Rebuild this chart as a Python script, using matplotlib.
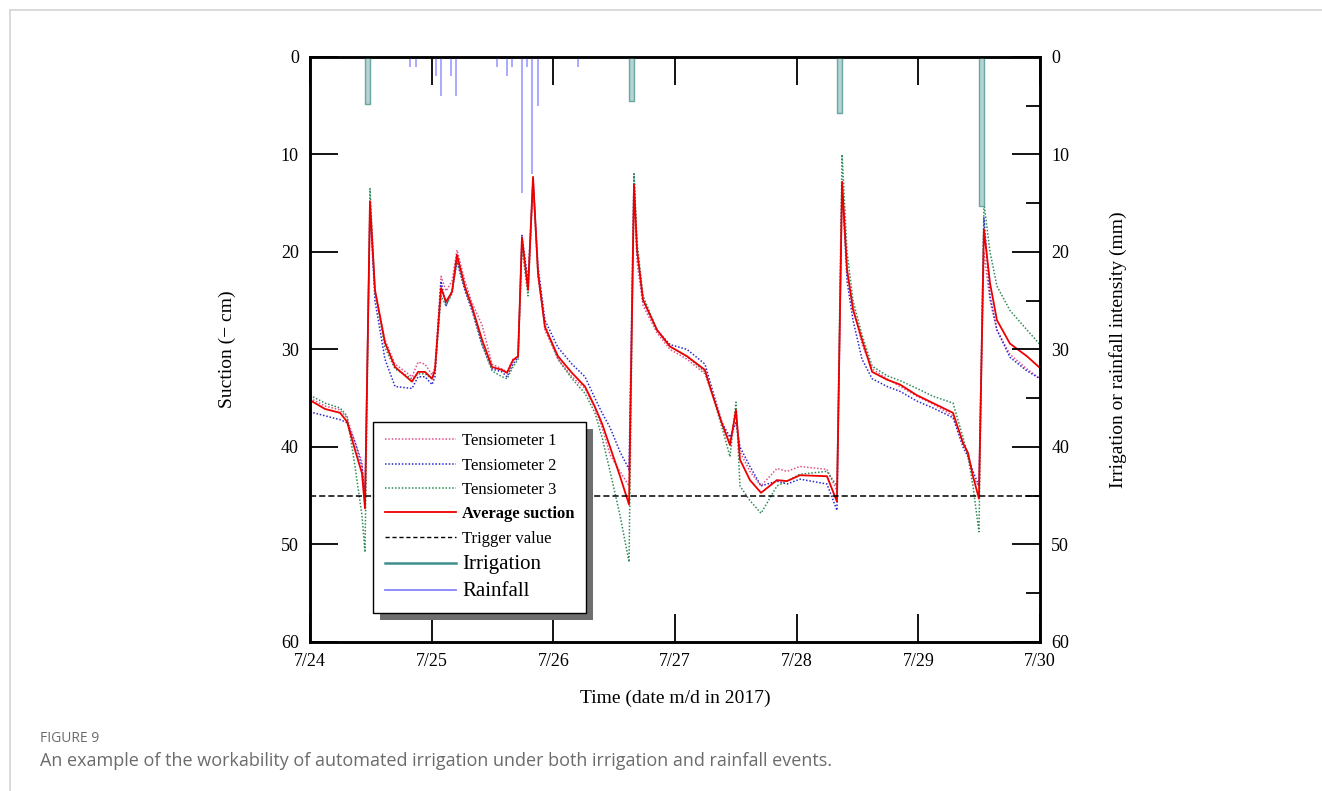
import matplotlib
matplotlib.use("Agg")
import matplotlib.pyplot as plt
from matplotlib.lines import Line2D
from matplotlib.patches import Rectangle

plt.rcParams['font.family'] = ['Liberation Serif', 'DejaVu Serif']

# time in days after 7/24 00:00
t = [0.000, 0.123, 0.247, 0.304, 0.370, 0.427, 0.452, 0.493, 0.534, 0.616,
     0.699, 0.838, 0.888, 0.945, 1.003, 1.027, 1.077, 1.118, 1.167, 1.208,
     1.274, 1.331, 1.414, 1.496, 1.578, 1.619, 1.668, 1.710, 1.742, 1.792,
     1.833, 1.874, 1.931, 2.038, 2.153, 2.260, 2.342, 2.400, 2.466, 2.548,
     2.622, 2.663, 2.688, 2.737, 2.852, 2.959, 3.099, 3.246, 3.304, 3.386,
     3.452, 3.501, 3.534, 3.616, 3.707, 3.838, 3.920, 4.027, 4.249, 4.331,
     4.373, 4.414, 4.463, 4.537, 4.620, 4.743, 4.850, 4.989, 5.121, 5.285,
     5.367, 5.408, 5.449, 5.498, 5.539, 5.589, 5.646, 5.753, 5.893, 6.000]

tens1 = [35.0, 35.8, 36.2, 37.0, 39.5, 41.5, 45.5, 15.5, 24.0, 29.0,
         31.5, 32.8, 31.3, 31.5, 32.6, 31.8, 22.5, 24.0, 23.0, 19.8,
         23.0, 25.2, 27.5, 31.5, 32.0, 32.3, 31.0, 30.7, 18.8, 24.0,
         13.0, 22.0, 28.0, 31.0, 32.8, 34.0, 36.0, 38.0, 40.8, 42.5,
         44.0, 14.0, 21.0, 25.5, 28.3, 30.0, 31.0, 32.5, 34.5, 37.5,
         39.5, 36.5, 40.5, 42.5, 44.0, 42.2, 42.5, 42.0, 42.3, 44.5,
         13.5, 22.0, 25.5, 29.5, 32.0, 33.0, 33.8, 34.8, 35.6, 36.8,
         39.5, 40.8, 43.2, 44.0, 20.0, 25.0, 28.0, 30.5, 32.0, 33.0]

tens2 = [36.4, 36.8, 37.2, 37.5, 39.5, 42.0, 45.0, 15.5, 25.0, 31.0,
         33.8, 34.0, 32.8, 32.8, 33.6, 32.8, 23.0, 25.5, 24.0, 21.0,
         24.0, 26.0, 29.5, 32.0, 32.3, 32.8, 31.5, 30.8, 18.3, 23.0,
         12.5, 21.5, 27.0, 29.8, 31.5, 32.8, 35.0, 36.5, 38.0, 40.5,
         42.3, 12.0, 20.0, 25.0, 28.0, 29.5, 30.0, 31.5, 34.0, 37.5,
         39.0, 37.5, 40.0, 42.0, 44.0, 43.5, 43.8, 43.3, 43.8, 46.5,
         13.0, 23.0, 27.0, 31.0, 33.0, 33.8, 34.3, 35.3, 36.0, 37.0,
         40.0, 41.0, 42.5, 44.0, 16.5, 24.5, 28.0, 30.8, 32.2, 33.0]

tens3 = [34.7, 35.5, 36.0, 36.8, 42.0, 47.0, 50.8, 13.5, 24.0, 29.8,
         32.0, 33.0, 32.5, 32.5, 33.0, 32.3, 24.5, 25.5, 24.3, 20.8,
         23.8, 25.8, 29.5, 32.2, 32.8, 33.0, 31.8, 31.0, 19.5, 24.5,
         12.5, 22.5, 27.5, 31.0, 33.0, 34.5, 36.5, 39.0, 42.5, 47.0,
         51.8, 12.0, 19.0, 24.5, 28.0, 29.7, 30.7, 32.3, 34.5, 38.0,
         41.0, 35.4, 44.0, 45.5, 46.8, 44.0, 43.5, 42.8, 42.5, 44.0,
         10.0, 20.0, 25.0, 28.5, 31.7, 32.7, 33.2, 34.0, 34.8, 35.5,
         39.0, 41.0, 44.0, 48.7, 15.0, 20.0, 23.5, 26.0, 28.0, 29.5]

avg = [35.2, 36.1, 36.5, 37.4, 40.3, 42.7, 46.3, 14.8, 23.9, 29.3,
       31.8, 33.3, 32.3, 32.3, 33.0, 32.1, 23.7, 25.1, 24.1, 20.3,
       23.6, 25.6, 29.0, 31.8, 32.1, 32.4, 31.1, 30.7, 18.5, 23.9,
       12.3, 22.2, 27.7, 30.7, 32.4, 33.8, 35.9, 37.6, 40.0, 43.0,
       45.9, 13.1, 19.8, 24.9, 28.0, 29.7, 30.7, 32.1, 34.5, 37.6,
       39.8, 36.2, 41.3, 43.4, 44.7, 43.4, 43.5, 42.9, 43.0, 45.6,
       12.8, 21.8, 25.9, 29.0, 32.3, 33.1, 33.6, 34.7, 35.5, 36.5,
       39.6, 40.6, 43.0, 45.3, 17.7, 23.2, 27.0, 29.4, 30.7, 31.9]

trigger = 45

irr_t = [0.471, 2.644, 4.353, 5.520]
irr_mm = [4.8, 4.5, 5.7, 15.3]

rain_t = [0.824, 0.869, 1.033, 1.074, 1.161, 1.200, 1.537, 1.619, 1.660,
          1.742, 1.784, 1.827, 1.871, 2.205]
rain_mm = [1, 1, 2, 4, 2, 4, 1, 2, 1, 14, 1, 12, 5, 1]

day_labels = ['7/24', '7/25', '7/26', '7/27', '7/28', '7/29', '7/30']

fig = plt.figure(figsize=(13.22, 7.91), dpi=100)
ax = fig.add_axes([0.2345, 0.1884, 0.5522, 0.7396])
ax2 = ax.twinx()

c1, c2, c3 = '#e0508a', '#2a2ad0', '#2e8b57'
dot = (0, (1, 1.2))
ax.plot(t, tens1, color=c1, lw=1.1, ls=dot)
ax.plot(t, tens2, color=c2, lw=1.1, ls=dot)
ax.plot(t, tens3, color=c3, lw=1.1, ls=dot)
ax.plot(t, avg, color='#ee0000', lw=1.3)
ax.axhline(trigger, color='black', lw=1.1, ls=(0, (4, 2)))

ax2.bar(irr_t, irr_mm, width=0.045, color='#b4d2cf', edgecolor='#6aa7a2',
        linewidth=1.0, align='center')
ax2.vlines(rain_t, 0, rain_mm, color='#8484ff', lw=1.3, alpha=0.75)

for a in (ax, ax2):
    a.set_ylim(60, 0)
    a.set_yticks(range(0, 61, 10))
    a.tick_params(axis='y', which='major', direction='in', length=20,
                  width=1.3, labelsize=13, pad=8)
ax2.set_yticks(range(5, 60, 10), minor=True)
ax2.tick_params(axis='y', which='minor', direction='in', length=10, width=1.3)
ax.set_xlim(0, 6)
ax.set_xticks(range(7))
ax.set_xticklabels(day_labels)
ax.tick_params(axis='x', direction='in', length=20, width=1.3,
               labelsize=13, top=True, pad=8)
for sp in list(ax.spines.values()) + list(ax2.spines.values()):
    sp.set_linewidth(1.8)

ax.set_xlabel('Time (date m/d in 2017)', fontsize=14, labelpad=14)
ax.set_ylabel('Suction (\u2212 cm)', fontsize=14, labelpad=32)
ax2.set_ylabel('Irrigation or rainfall intensity (mm)', fontsize=14,
               labelpad=29)

handles = [
    Line2D([], [], color=c1, lw=1.1, ls=dot),
    Line2D([], [], color=c2, lw=1.1, ls=dot),
    Line2D([], [], color=c3, lw=1.1, ls=dot),
    Line2D([], [], color='#ee0000', lw=1.3),
    Line2D([], [], color='black', lw=1.0, ls=(0, (3, 2))),
    Line2D([], [], color='#3f8f8a', lw=1.8),
    Line2D([], [], color='#8484ff', lw=1.3),
]
labels = ['Tensiometer 1', 'Tensiometer 2', 'Tensiometer 3', 'Average suction',
          'Trigger value', 'Irrigation', 'Rainfall']
leg = ax2.legend(handles, labels, loc='lower left',
                 bbox_to_anchor=(0.0863, 0.0496), borderaxespad=0,
                 fontsize=12, handlelength=4.3, handletextpad=0.35,
                 labelspacing=0.5, fancybox=False, framealpha=1,
                 edgecolor='black', borderpad=0.7)
leg.get_frame().set_linewidth(1.0)
leg.set_zorder(10)
txts = leg.get_texts()
txts[3].set_fontweight('bold')
txts[5].set_fontsize(15)
txts[6].set_fontsize(15)

# drop shadow behind the legend, above the curves
fig.canvas.draw()
bb = leg.get_window_extent()
inv = fig.transFigure.inverted()
(x0, y0), (x1, y1) = inv.transform([(bb.x0 + 7, bb.y0 - 7), (bb.x1 + 7, bb.y1 - 7)])
shadow = Rectangle((x0, y0), x1 - x0, y1 - y0, transform=fig.transFigure,
                   facecolor='#6e6e6e', edgecolor='none', zorder=9,
                   clip_on=False)
ax2.add_artist(shadow)

# page frame lines
fig.add_artist(Line2D([10 / 1322, 1], [1 - 10 / 791, 1 - 10 / 791],
                      transform=fig.transFigure, color='#d4d4d4', lw=1.2))
fig.add_artist(Line2D([10 / 1322, 10 / 1322], [0, 1 - 10 / 791],
                      transform=fig.transFigure, color='#d4d4d4', lw=1.2))

fig.text(40 / 1322, 1 - 739 / 791, 'FIGURE 9', family='Open Sans',
         fontsize=10, color='#6b6b6b', va='center')
fig.text(40 / 1322, 1 - 761 / 791,
         'An example of the workability of automated irrigation under both '
         'irrigation and rainfall events.', family='Open Sans',
         fontsize=13, color='#6b6b6b', va='center')

fig.savefig('out.png', dpi=100)
